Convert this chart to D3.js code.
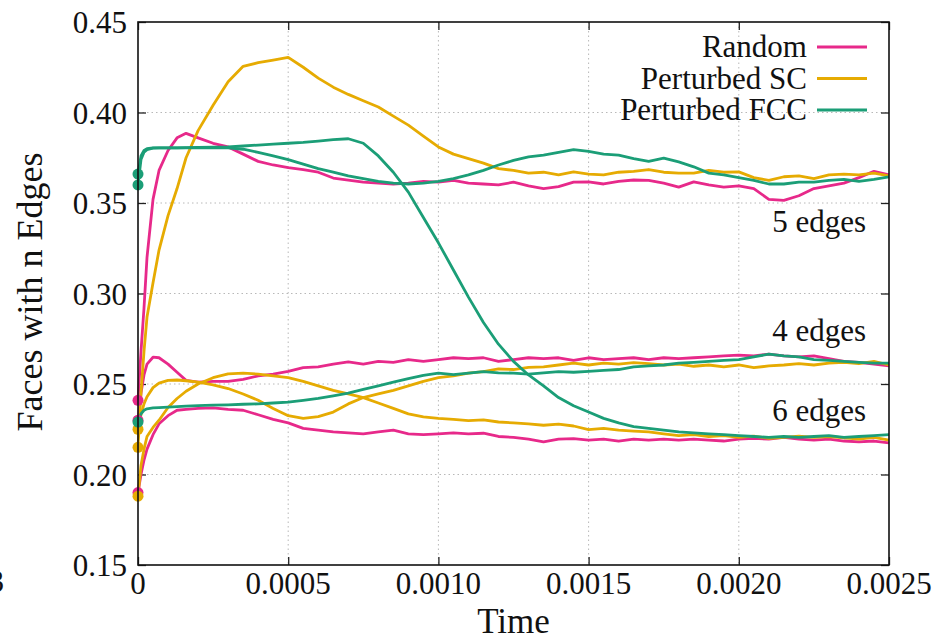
<!DOCTYPE html>
<html><head><meta charset="utf-8">
<script src="https://cdn.jsdelivr.net/npm/d3@7"></script>
<style>
body{margin:0;background:#fff}
svg{display:block}
</style>
</head><body>
<svg id="c" width="948" height="642"></svg>
<script>
// ---------- data ----------
const time = [0,0.00001,0.00002,0.00003,0.00005,0.00007,0.0001,0.00013,0.00016,0.0002,0.00025,
  0.0003,0.00035,0.0004,0.00045,0.0005,0.00055,0.0006,0.00065,0.0007,0.00075,0.0008,0.00085,0.0009,0.00095,
  0.001,0.00105,0.0011,0.00115,0.0012,0.00125,0.0013,0.00135,0.0014,0.00145,0.0015,0.00155,0.0016,0.00165,
  0.0017,0.00175,0.0018,0.00185,0.0019,0.00195,0.002,0.00205,0.0021,0.00215,0.0022,0.00225,0.0023,0.00235,
  0.0024,0.00245,0.0025];

const random5 = [0.241,0.268,0.292,0.320,0.352,0.368,0.379,0.386,0.3885,0.386,0.383,0.381,0.377,0.373,0.371,
  0.3695,0.3685,0.367,0.3638,0.3627,0.3615,0.361,0.3605,0.361,0.362,0.3615,0.3625,0.361,0.3605,0.360,0.3615,
  0.3595,0.358,0.359,0.3615,0.3617,0.3605,0.362,0.3627,0.3625,0.361,0.3588,0.3617,0.360,0.3588,0.3595,0.358,
  0.352,0.3515,0.354,0.358,0.3595,0.361,0.364,0.3675,0.3655];
const random4 = [0.230,0.245,0.255,0.261,0.2648,0.2645,0.261,0.2565,0.252,0.251,0.2515,0.2515,0.2525,0.2545,
  0.2555,0.257,0.259,0.2595,0.261,0.2622,0.261,0.2625,0.262,0.2635,0.2625,0.2635,0.2645,0.264,0.2645,0.2625,
  0.2635,0.2645,0.264,0.2645,0.263,0.2645,0.2635,0.264,0.2645,0.2635,0.2645,0.264,0.2645,0.265,0.2655,0.266,
  0.2655,0.2665,0.2655,0.265,0.2655,0.264,0.2625,0.262,0.261,0.260];
const random6 = [0.190,0.200,0.208,0.214,0.222,0.228,0.2325,0.2355,0.236,0.2365,0.2368,0.236,0.2355,0.233,
  0.2305,0.2285,0.2255,0.2245,0.2235,0.223,0.2225,0.2235,0.2245,0.2225,0.222,0.2225,0.223,0.2225,0.2228,0.221,
  0.2205,0.2195,0.218,0.2195,0.2198,0.219,0.2195,0.2185,0.2195,0.219,0.2195,0.219,0.2195,0.219,0.2185,0.2195,
  0.220,0.2195,0.2205,0.2195,0.219,0.2195,0.2185,0.218,0.2185,0.2175];

const sc5 = [0.215,0.245,0.268,0.287,0.306,0.324,0.343,0.358,0.375,0.390,0.404,0.417,0.4255,0.4275,0.429,
  0.4305,0.425,0.419,0.414,0.410,0.4065,0.403,0.398,0.393,0.387,0.381,0.377,0.3745,0.372,0.369,0.368,0.3665,
  0.367,0.3655,0.3672,0.366,0.3655,0.367,0.3675,0.3685,0.367,0.3665,0.3665,0.368,0.367,0.3672,0.364,0.3625,
  0.3645,0.365,0.3635,0.3655,0.366,0.3655,0.3665,0.365];
const sc4 = [0.225,0.233,0.239,0.243,0.248,0.2505,0.252,0.2522,0.2518,0.251,0.2495,0.2475,0.2445,0.241,0.2365,
  0.2325,0.231,0.232,0.2345,0.239,0.2425,0.2445,0.2465,0.249,0.2515,0.2535,0.2545,0.256,0.2568,0.2583,0.258,
  0.2592,0.2595,0.2605,0.2615,0.2605,0.2615,0.261,0.2618,0.2612,0.2605,0.261,0.2598,0.2605,0.2595,0.2605,0.259,
  0.260,0.2605,0.2612,0.2605,0.2615,0.262,0.2612,0.2625,0.2605];
const sc6 = [0.188,0.205,0.214,0.221,0.226,0.230,0.237,0.242,0.246,0.250,0.2535,0.2556,0.256,0.2555,0.2545,
  0.2535,0.2515,0.249,0.2465,0.2445,0.2425,0.2395,0.2365,0.2335,0.2318,0.231,0.2305,0.2298,0.2302,0.229,0.2285,
  0.228,0.2272,0.2278,0.2268,0.2248,0.2255,0.2245,0.224,0.2235,0.2225,0.2215,0.222,0.221,0.2215,0.2205,0.2212,
  0.220,0.2205,0.2212,0.2205,0.221,0.2202,0.2195,0.2205,0.219];

const fcc5 = [0.366,0.376,0.379,0.380,0.3805,0.3805,0.3805,0.3805,0.3805,0.3805,0.3805,0.3805,0.3797,0.378,
  0.376,0.374,0.3715,0.369,0.367,0.365,0.3635,0.362,0.361,0.3605,0.361,0.362,0.3635,0.3655,0.368,0.371,0.3735,
  0.3755,0.3765,0.378,0.3795,0.3785,0.377,0.3765,0.3745,0.373,0.3748,0.3727,0.370,0.3665,0.3655,0.364,0.3625,
  0.3605,0.3605,0.3615,0.3615,0.3625,0.363,0.362,0.363,0.3645];
const fcc6 = [0.360,0.374,0.378,0.3795,0.3803,0.3805,0.3805,0.3805,0.3806,0.3807,0.3808,0.381,0.3815,0.382,
  0.3825,0.383,0.3835,0.3842,0.385,0.3855,0.383,0.376,0.367,0.356,0.342,0.328,0.313,0.298,0.284,0.272,0.2625,
  0.255,0.249,0.2425,0.238,0.2345,0.231,0.2285,0.2265,0.2255,0.2245,0.2235,0.223,0.2225,0.222,0.2215,0.221,
  0.2205,0.221,0.2205,0.221,0.2215,0.2205,0.221,0.2215,0.222];
const fcc4 = [0.229,0.2335,0.2355,0.2363,0.2368,0.237,0.2372,0.2375,0.2378,0.238,0.2383,0.2385,0.2388,0.239,
  0.2395,0.240,0.241,0.242,0.2435,0.245,0.247,0.249,0.251,0.253,0.2548,0.256,0.2552,0.256,0.2568,0.2562,0.256,
  0.2555,0.2562,0.2568,0.2565,0.257,0.2575,0.258,0.2595,0.260,0.2605,0.2615,0.262,0.2625,0.263,0.2635,0.265,
  0.2665,0.2655,0.265,0.2635,0.263,0.2625,0.262,0.2615,0.2615];

const seriesNames = ["Random","Perturbed SC","Perturbed FCC"];
const seriesColors = ["#e7298a","#e6ab02","#1b9e77"];
const seriesCurves = [[random5,random4,random6],[sc5,sc4,sc6],[fcc5,fcc6,fcc4]];

const xTicks = [0,0.0005,0.001,0.0015,0.002,0.0025];
const xTickLabels = ["0","0.0005","0.0010","0.0015","0.0020","0.0025"];
const yTicks = [0.15,0.20,0.25,0.30,0.35,0.40,0.45];
const yTickLabels = ["0.15","0.20","0.25","0.30","0.35","0.40","0.45"];
const edgeLabels = ["5 edges","4 edges","6 edges"];
const edgeLabelAt = [0.334,0.2735,0.2297];

// ---------- drawing ----------
const FONT = "'Liberation Serif', 'DejaVu Serif', serif";
const svg = d3.select("#c");
const L=138,R=889,T=22,B=565;
const x = d3.scaleLinear().domain([0,0.0025]).range([L,R]);
const y = d3.scaleLinear().domain([0.15,0.45]).range([B,T]);

function txt(sel){ return sel.attr("font-family",FONT).attr("fill","#111"); }

// grid
const g = svg.append("g");
g.selectAll(".gx").data(xTicks.slice(1,-1)).enter().append("line")
  .attr("x1",d=>x(d)).attr("x2",d=>x(d)).attr("y1",T).attr("y2",B)
  .attr("stroke","#b8b8b8").attr("stroke-width",1).attr("stroke-dasharray","1.5,3");
g.selectAll(".gy").data(yTicks.slice(1,-1)).enter().append("line")
  .attr("y1",d=>y(d)).attr("y2",d=>y(d)).attr("x1",L).attr("x2",R)
  .attr("stroke","#b8b8b8").attr("stroke-width",1).attr("stroke-dasharray","1.5,3");

// axes (ticks inward on all sides)
const tk = 8;
svg.append("g").attr("transform",`translate(0,${B})`)
  .call(d3.axisBottom(x).tickValues(xTicks).tickSize(-tk).tickFormat(""))
  .call(a=>a.select(".domain").remove());
svg.append("g").attr("transform",`translate(0,${T})`)
  .call(d3.axisTop(x).tickValues(xTicks).tickSize(-tk).tickFormat(""))
  .call(a=>a.select(".domain").remove());
svg.append("g").attr("transform",`translate(${L},0)`)
  .call(d3.axisLeft(y).tickValues(yTicks).tickSize(-tk).tickFormat(""))
  .call(a=>a.select(".domain").remove());
svg.append("g").attr("transform",`translate(${R},0)`)
  .call(d3.axisRight(y).tickValues(yTicks).tickSize(-tk).tickFormat(""))
  .call(a=>a.select(".domain").remove());
svg.selectAll(".tick line").attr("stroke","#222").attr("stroke-width",1.3);
svg.selectAll(".tick text").remove();

// tick labels
txt(svg.selectAll(".xl").data(xTicks).enter().append("text"))
  .attr("x",d=>x(d)).attr("y",594).attr("text-anchor","middle")
  .attr("font-size",31).text((d,i)=>xTickLabels[i]);
txt(svg.selectAll(".yl").data(yTicks).enter().append("text"))
  .attr("x",127).attr("y",d=>y(d)+11).attr("text-anchor","end")
  .attr("font-size",31).text((d,i)=>yTickLabels[i]);

// lines
const line = d3.line().x((d,i)=>x(time[i])).y(d=>y(d));
seriesCurves.forEach((curves,s)=>{
  curves.forEach(c=>{
    svg.append("path").datum(c).attr("d",line).attr("fill","none")
      .attr("stroke",seriesColors[s]).attr("stroke-width",2.8)
      .attr("stroke-linejoin","round");
  });
});
// initial points
seriesCurves.forEach((curves,s)=>{
  curves.forEach(c=>{
    svg.append("circle").attr("cx",x(time[0])).attr("cy",y(c[0])).attr("r",5.5)
      .attr("fill",seriesColors[s]);
  });
});

// frame
svg.append("rect").attr("x",L).attr("y",T).attr("width",R-L).attr("height",B-T)
  .attr("fill","none").attr("stroke","#111").attr("stroke-width",1.6);

// edge labels
txt(svg.selectAll(".el").data(edgeLabels).enter().append("text"))
  .attr("x",866).attr("y",(d,i)=>y(edgeLabelAt[i])).attr("text-anchor","end")
  .attr("font-size",31).text(d=>d);

// legend
seriesNames.forEach((n,i)=>{
  const by = 57 + i*31.5;
  txt(svg.append("text")).attr("x",807).attr("y",by).attr("text-anchor","end")
    .attr("font-size",31).text(n);
  svg.append("line").attr("x1",817).attr("x2",867).attr("y1",by-10).attr("y2",by-10)
    .attr("stroke",seriesColors[i]).attr("stroke-width",3);
});

// axis titles
txt(svg.append("text")).attr("x",(L+R)/2).attr("y",633).attr("text-anchor","middle")
  .attr("font-size",35).text("Time");
txt(svg.append("text")).attr("transform","translate(42,292) rotate(-90)").attr("text-anchor","middle")
  .attr("font-size",36).text("Faces with n Edges");

// glyph fragment visible at the left edge of the reference
txt(svg.append("text")).attr("x",4).attr("y",592).attr("text-anchor","end")
  .attr("font-size",31).text("3");
</script>
</body></html>
